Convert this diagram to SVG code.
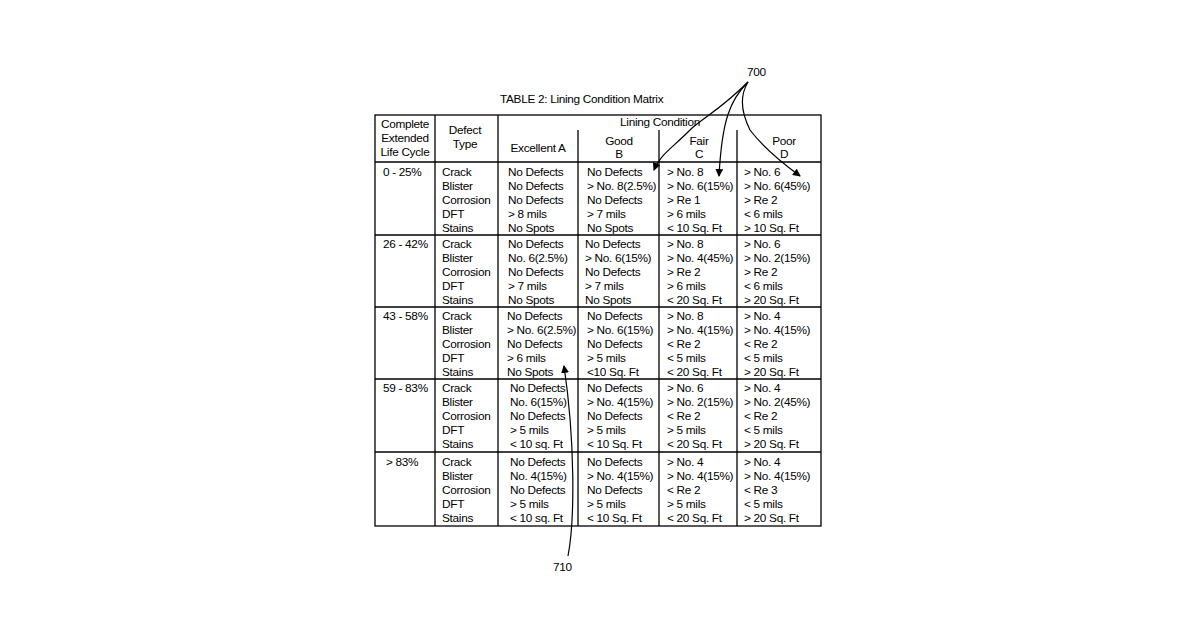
<svg xmlns="http://www.w3.org/2000/svg" width="1200" height="630" viewBox="0 0 1200 630">
<style>
text{font-family:"Liberation Sans",Arial,sans-serif;font-size:11.8px;letter-spacing:-0.3px;fill:#000}
.g{stroke:#000;stroke-width:1.3;fill:none}
.c{stroke:#000;stroke-width:1.2;fill:none}
</style>
<defs><marker id="a" markerWidth="8" markerHeight="8" refX="7" refY="4" orient="auto" markerUnits="userSpaceOnUse"><path d="M0,0 L8,4 L0,8 Z" fill="#000"/></marker></defs>
<rect width="1200" height="630" fill="#fff"/>
<text x="500" y="103" font-size="12.5">TABLE 2: Lining Condition Matrix</text>
<g id="grid" class="g">
<rect x="375" y="115" width="446" height="411"/>
<line x1="435" y1="115" x2="435" y2="526"/>
<line x1="498" y1="115" x2="498" y2="526"/>
<line x1="578" y1="130" x2="578" y2="526"/>
<line x1="659" y1="130" x2="659" y2="526"/>
<line x1="737" y1="130" x2="737" y2="526"/>
<line x1="375" y1="162" x2="821" y2="162"/>
<line x1="375" y1="235" x2="821" y2="235"/>
<line x1="375" y1="307" x2="821" y2="307"/>
<line x1="375" y1="379" x2="821" y2="379"/>
<line x1="375" y1="452" x2="821" y2="452"/>
</g>
<g id="header" text-anchor="middle">
<text x="405" y="128">Complete</text><text x="405" y="142">Extended</text><text x="405" y="156">Life Cycle</text>
<text x="465" y="134">Defect</text><text x="465" y="148">Type</text>
<text x="660" y="126">Lining Condition</text>
<text x="538" y="152">Excellent A</text>
<text x="619" y="145">Good</text><text x="619" y="158">B</text>
<text x="699" y="145">Fair</text><text x="699" y="158">C</text>
<text x="784" y="145">Poor</text><text x="784" y="158">D</text>
</g>
<g id="r1">
<text x="383" y="176">0 - 25%</text>
<text x="442" y="176">Crack</text><text x="442" y="190">Blister</text><text x="442" y="204">Corrosion</text><text x="442" y="218">DFT</text><text x="442" y="232">Stains</text>
<text x="508" y="176">No Defects</text><text x="508" y="190">No Defects</text><text x="508" y="204">No Defects</text><text x="508" y="218">&gt; 8 mils</text><text x="508" y="232">No Spots</text>
<text x="587" y="176">No Defects</text><text x="587" y="190">&gt; No. 8(2.5%)</text><text x="587" y="204">No Defects</text><text x="587" y="218">&gt; 7 mils</text><text x="587" y="232">No Spots</text>
<text x="667" y="176">&gt; No. 8</text><text x="667" y="190">&gt; No. 6(15%)</text><text x="667" y="204">&gt; Re 1</text><text x="667" y="218">&gt; 6 mils</text><text x="667" y="232">&lt; 10 Sq. Ft</text>
<text x="744" y="176">&gt; No. 6</text><text x="744" y="190">&gt; No. 6(45%)</text><text x="744" y="204">&gt; Re 2</text><text x="744" y="218">&lt; 6 mils</text><text x="744" y="232">&gt; 10 Sq. Ft</text>
</g>
<g id="r2">
<text x="383" y="248">26 - 42%</text>
<text x="442" y="248">Crack</text><text x="442" y="262">Blister</text><text x="442" y="276">Corrosion</text><text x="442" y="290">DFT</text><text x="442" y="304">Stains</text>
<text x="508" y="248">No Defects</text><text x="508" y="262">No. 6(2.5%)</text><text x="508" y="276">No Defects</text><text x="508" y="290">&gt; 7 mils</text><text x="508" y="304">No Spots</text>
<text x="585" y="248">No Defects</text><text x="585" y="262">&gt; No. 6(15%)</text><text x="585" y="276">No Defects</text><text x="585" y="290">&gt; 7 mils</text><text x="585" y="304">No Spots</text>
<text x="667" y="248">&gt; No. 8</text><text x="667" y="262">&gt; No. 4(45%)</text><text x="667" y="276">&gt; Re 2</text><text x="667" y="290">&gt; 6 mils</text><text x="667" y="304">&lt; 20 Sq. Ft</text>
<text x="744" y="248">&gt; No. 6</text><text x="744" y="262">&gt; No. 2(15%)</text><text x="744" y="276">&gt; Re 2</text><text x="744" y="290">&lt; 6 mils</text><text x="744" y="304">&gt; 20 Sq. Ft</text>
</g>
<g id="r3">
<text x="383" y="320">43 - 58%</text>
<text x="442" y="320">Crack</text><text x="442" y="334">Blister</text><text x="442" y="348">Corrosion</text><text x="442" y="362">DFT</text><text x="442" y="376">Stains</text>
<text x="507" y="320">No Defects</text><text x="507" y="334">&gt; No. 6(2.5%)</text><text x="507" y="348">No Defects</text><text x="507" y="362">&gt; 6 mils</text><text x="507" y="376">No Spots</text>
<text x="587" y="320">No Defects</text><text x="587" y="334">&gt; No. 6(15%)</text><text x="587" y="348">No Defects</text><text x="587" y="362">&gt; 5 mils</text><text x="587" y="376">&lt;10 Sq. Ft</text>
<text x="667" y="320">&gt; No. 8</text><text x="667" y="334">&gt; No. 4(15%)</text><text x="667" y="348">&lt; Re 2</text><text x="667" y="362">&lt; 5 mils</text><text x="667" y="376">&lt; 20 Sq. Ft</text>
<text x="744" y="320">&gt; No. 4</text><text x="744" y="334">&gt; No. 4(15%)</text><text x="744" y="348">&lt; Re 2</text><text x="744" y="362">&lt; 5 mils</text><text x="744" y="376">&gt; 20 Sq. Ft</text>
</g>
<g id="r4">
<text x="383" y="392">59 - 83%</text>
<text x="442" y="392">Crack</text><text x="442" y="406">Blister</text><text x="442" y="420">Corrosion</text><text x="442" y="434">DFT</text><text x="442" y="448">Stains</text>
<text x="510" y="392">No Defects</text><text x="510" y="406">No. 6(15%)</text><text x="510" y="420">No Defects</text><text x="510" y="434">&gt; 5 mils</text><text x="510" y="448">&lt; 10 sq. Ft</text>
<text x="587" y="392">No Defects</text><text x="587" y="406">&gt; No. 4(15%)</text><text x="587" y="420">No Defects</text><text x="587" y="434">&gt; 5 mils</text><text x="587" y="448">&lt; 10 Sq. Ft</text>
<text x="667" y="392">&gt; No. 6</text><text x="667" y="406">&gt; No. 2(15%)</text><text x="667" y="420">&lt; Re 2</text><text x="667" y="434">&gt; 5 mils</text><text x="667" y="448">&lt; 20 Sq. Ft</text>
<text x="744" y="392">&gt; No. 4</text><text x="744" y="406">&gt; No. 2(45%)</text><text x="744" y="420">&lt; Re 2</text><text x="744" y="434">&lt; 5 mils</text><text x="744" y="448">&gt; 20 Sq. Ft</text>
</g>
<g id="r5">
<text x="386" y="466">&gt; 83%</text>
<text x="442" y="466">Crack</text><text x="442" y="480">Blister</text><text x="442" y="494">Corrosion</text><text x="442" y="508">DFT</text><text x="442" y="522">Stains</text>
<text x="510" y="466">No Defects</text><text x="510" y="480">No. 4(15%)</text><text x="510" y="494">No Defects</text><text x="510" y="508">&gt; 5 mils</text><text x="510" y="522">&lt; 10 sq. Ft</text>
<text x="587" y="466">No Defects</text><text x="587" y="480">&gt; No. 4(15%)</text><text x="587" y="494">No Defects</text><text x="587" y="508">&gt; 5 mils</text><text x="587" y="522">&lt; 10 Sq. Ft</text>
<text x="667" y="466">&gt; No. 4</text><text x="667" y="480">&gt; No. 4(15%)</text><text x="667" y="494">&lt; Re 2</text><text x="667" y="508">&gt; 5 mils</text><text x="667" y="522">&lt; 20 Sq. Ft</text>
<text x="744" y="466">&gt; No. 4</text><text x="744" y="480">&gt; No. 4(15%)</text><text x="744" y="494">&lt; Re 3</text><text x="744" y="508">&lt; 5 mils</text><text x="744" y="522">&gt; 20 Sq. Ft</text>
</g>
<g id="labels">
<text x="747" y="76" font-size="13.5">700</text>
<text x="553" y="571" font-size="13.5">710</text>
</g>
<g id="connectors" class="c">
<path d="M748,82 C720,110 700,120 690,130 C670,150 660,155 654,170" marker-end="url(#a)"/>
<path d="M748,82 C730,100 722,120 719,176" marker-end="url(#a)"/>
<path d="M748,82 C740,95 740,110 750,130 C765,150 785,165 800,176" marker-end="url(#a)"/>
<path d="M568,556 C575,520 575,440 564,366" marker-end="url(#a)"/>
</g>
</svg>
